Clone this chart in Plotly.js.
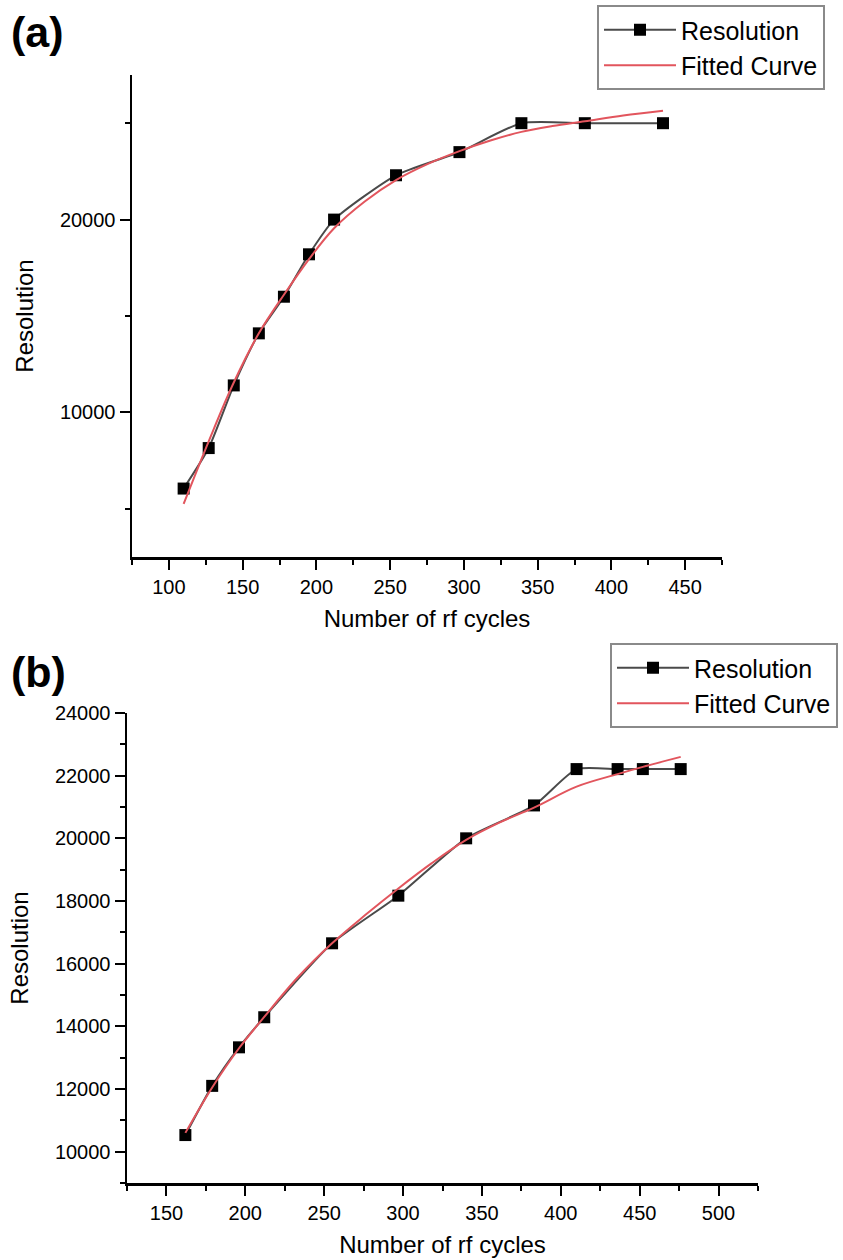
<!DOCTYPE html>
<html><head><meta charset="utf-8">
<script src="https://cdn.plot.ly/plotly-3.0.1.min.js"></script>
<style>html,body{margin:0;padding:0;background:#fff}#chart{width:843px;height:1260px}</style>
</head><body><div id="chart"></div>
<script>
// Panel (a)
const cyclesA = [110, 127, 144, 161, 178, 195, 212, 254, 297, 339, 382, 435];
const resolutionA = [6050, 8150, 11400, 14100, 16000, 18200, 20000, 22300, 23500, 25000, 25000, 25000];
const fitCyclesA = [110, 127, 144, 161, 178, 195, 212, 233, 254, 276, 297, 318, 339, 360, 382, 408, 435];
const fitResolutionA = [5250, 8500, 11550, 14100, 16100, 17950, 19550, 20950, 22050, 22900, 23550, 24100, 24550, 24850, 25100, 25400, 25650];
// Panel (b)
const cyclesB = [162, 179, 196, 212, 255, 297, 340, 383, 410, 436, 452, 476];
const resolutionB = [10530, 12100, 13330, 14290, 16650, 18170, 20000, 21050, 22210, 22210, 22210, 22210];
const fitCyclesB = [162, 179, 196, 212, 233, 255, 276, 297, 318, 340, 361, 383, 410, 436, 452, 476];
const fitResolutionB = [10600, 12050, 13300, 14300, 15550, 16650, 17550, 18400, 19200, 19950, 20500, 20980, 21650, 22050, 22280, 22600];

const seriesNames = ['Resolution', 'Fitted Curve'];
const panelLabels = ['(a)', '(b)'];
const axisTitleX = 'Number of rf cycles';
const axisTitleY = 'Resolution';

const FONT = 'Liberation Sans, Arial, sans-serif';
const dataLine = {color: '#4a4a4a', width: 2, shape: 'spline', smoothing: 0.6};
const dataMarker = {symbol: 'square', size: 12, color: '#000'};
const fitLine = {color: '#e2555d', width: 2, shape: 'spline', smoothing: 1};

const traces = [
  {x: cyclesA, y: resolutionA, name: seriesNames[0], mode: 'lines+markers', line: dataLine, marker: dataMarker, xaxis: 'x', yaxis: 'y', legend: 'legend'},
  {x: fitCyclesA, y: fitResolutionA, name: seriesNames[1], mode: 'lines', line: fitLine, xaxis: 'x', yaxis: 'y', legend: 'legend'},
  {x: cyclesB, y: resolutionB, name: seriesNames[0], mode: 'lines+markers', line: dataLine, marker: dataMarker, xaxis: 'x2', yaxis: 'y2', legend: 'legend2'},
  {x: fitCyclesB, y: fitResolutionB, name: seriesNames[1], mode: 'lines', line: fitLine, xaxis: 'x2', yaxis: 'y2', legend: 'legend2'}
];

function xAx(domain, range, tick0, anchor) {
  return {domain, range, anchor, tickmode: 'linear', tick0, dtick: 50,
    ticks: 'outside', ticklen: 10, tickwidth: 2, tickcolor: '#000',
    minor: {dtick: 25, tick0: tick0, ticks: 'outside', ticklen: 5, tickwidth: 2, tickcolor: '#000'},
    showline: true, linewidth: 2.5, linecolor: '#000', showgrid: false, zeroline: false,
    tickfont: {family: FONT, size: 20, color: '#000'},
    title: {text: axisTitleX, font: {family: FONT, size: 24, color: '#000'}, standoff: 14}};
}
function yAx(domain, range, dtick, anchor) {
  return {domain, range, anchor, tickmode: 'linear', tick0: 0, dtick,
    ticks: 'outside', ticklen: 10, tickwidth: 2, tickcolor: '#000',
    minor: {dtick: dtick / 2, tick0: 0, ticks: 'outside', ticklen: 5, tickwidth: 2, tickcolor: '#000'},
    showline: true, linewidth: 2.5, linecolor: '#000', showgrid: false, zeroline: false,
    tickformat: 'd',
    tickfont: {family: FONT, size: 20, color: '#000'},
    title: {text: axisTitleY, font: {family: FONT, size: 24, color: '#000'}, standoff: 20}};
}

const W = 843, H = 1260;
const legendStyle = {xanchor: 'left', yanchor: 'top', bgcolor: '#fff',
  bordercolor: '#8a8a8a', borderwidth: 2, font: {family: FONT, size: 25, color: '#000'}, itemwidth: 72, tracegroupgap: 0};
const layout = {
  width: W, height: H,
  margin: {l: 0, r: 0, t: 0, b: 0},
  paper_bgcolor: '#fff', plot_bgcolor: '#fff',
  font: {family: FONT, color: '#000'},
  xaxis: xAx([132 / W, 722 / W], [75, 475], 0, 'y'),
  yaxis: yAx([1 - 557 / H, 1 - 75 / H], [2500, 27500], 10000, 'x'),
  xaxis2: xAx([127 / W, 758 / W], [125, 525], 0, 'y2'),
  yaxis2: yAx([1 - 1183 / H, 1 - 713 / H], [9000, 24000], 2000, 'x2'),
  legend: Object.assign({x: 597 / W, y: 1 - 5 / H}, legendStyle),
  legend2: Object.assign({x: 610 / W, y: 1 - 643 / H}, legendStyle),
  annotations: [
    {text: panelLabels[0], xref: 'paper', yref: 'paper', x: 9 / W, y: 1 - 6 / H, xanchor: 'left', yanchor: 'top', showarrow: false, font: {family: FONT, size: 43, color: '#000', weight: 'bold'}},
    {text: panelLabels[1], xref: 'paper', yref: 'paper', x: 9 / W, y: 1 - 646 / H, xanchor: 'left', yanchor: 'top', showarrow: false, font: {family: FONT, size: 43, color: '#000', weight: 'bold'}}
  ],
  showlegend: true
};

Plotly.newPlot('chart', traces, layout, {displayModeBar: false, staticPlot: true});
</script>
</body></html>
